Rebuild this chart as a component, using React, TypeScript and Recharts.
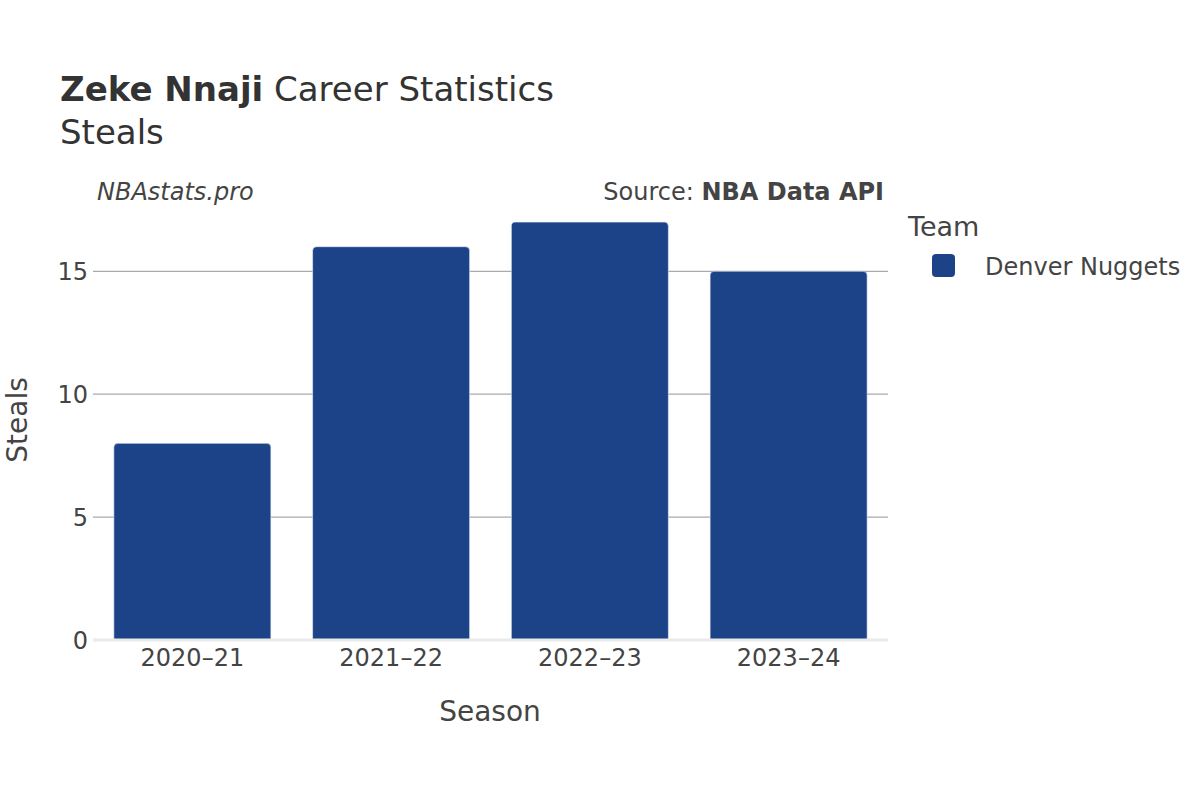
import React from "react";
import { BarChart, Bar, XAxis, YAxis, CartesianGrid, ReferenceLine } from "recharts";

const seasons = ["2020–21", "2021–22", "2022–23", "2023–24"];
const steals = [8, 16, 17, 15];
const yTicks = [0, 5, 10, 15];
const gridValues = [5, 10, 15];
const teamName = "Denver Nuggets";
const teamColor = "#1c4287";

const data = seasons.map((s, i) => ({ season: s, steals: steals[i] }));

const FONT = "'DejaVu Sans', Verdana, sans-serif";
const TXT = "#444";

export default function App() {
  return (
    <div style={{ position: "absolute", left: 0, top: 0, width: 1200, height: 800, background: "#fff", fontFamily: FONT }}>
      <BarChart
        width={1200}
        height={800}
        data={data}
        margin={{ top: 200, right: 312, bottom: 130, left: 13 }}
        barCategoryGap="10.5%"
      >
        <CartesianGrid
          vertical={false}
          horizontalValues={gridValues}
          stroke="#aaaaaa"
          strokeWidth={1.2}
        />
        <XAxis
          dataKey="season"
          height={30}
          tickLine={false}
          axisLine={false}
          tickSize={0}
          tickMargin={9}
          tick={{ fontSize: 24, fill: TXT, fontFamily: FONT }}
        />
        <YAxis
          width={80}
          domain={[0, 17.9]}
          ticks={yTicks}
          tickLine={false}
          axisLine={false}
          tickSize={0}
          tickMargin={5}
          tick={{ fontSize: 24, fill: TXT, fontFamily: FONT }}
        />
        <ReferenceLine y={0} stroke="#eaeaea" strokeWidth={3} />
        <Bar
          dataKey="steals"
          fill={teamColor}
          stroke="#e8ecf4"
          strokeWidth={0.6}
          radius={[4, 4, 0, 0]}
          isAnimationActive={false}
        />
      </BarChart>
      <svg
        width={1200}
        height={800}
        style={{ position: "absolute", left: 0, top: 0, pointerEvents: "none" }}
        fontFamily={FONT}
      >
        <text x={60} y={101} fontSize={34} fill="#333">
          <tspan fontWeight="bold">Zeke Nnaji</tspan>
          <tspan> Career Statistics</tspan>
        </text>
        <text x={60} y={144} fontSize={34} fill="#333">Steals</text>
        <text x={97} y={200} fontSize={24} fill={TXT} fontStyle="italic">NBAstats.pro</text>
        <text x={884} y={200} fontSize={24} fill={TXT} textAnchor="end">
          <tspan>Source: </tspan>
          <tspan fontWeight="bold">NBA Data API</tspan>
        </text>
        <text x={490} y={721} fontSize={28} fill={TXT} textAnchor="middle">Season</text>
        <text x={27} y={420} fontSize={28} fill={TXT} textAnchor="middle" transform="rotate(-90 27 420)">Steals</text>
        <text x={908} y={236} fontSize={27} fill={TXT}>Team</text>
        <rect x={932} y={254} width={23} height={23} rx={4} ry={4} fill={teamColor} />
        <text x={985} y={275} fontSize={24} fill={TXT}>{teamName}</text>
      </svg>
    </div>
  );
}
